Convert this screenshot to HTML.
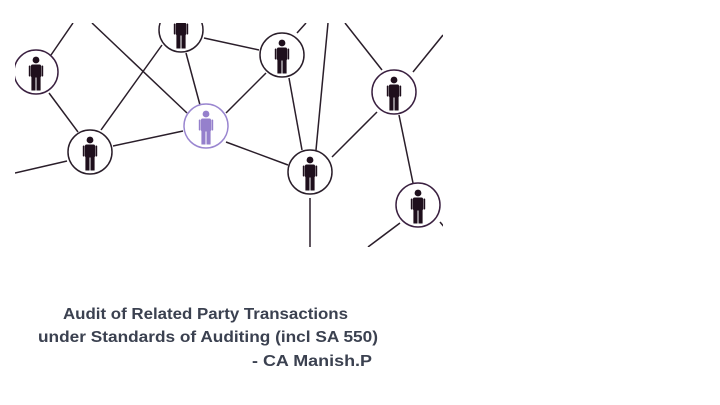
<!DOCTYPE html>
<html><head><meta charset="utf-8"><style>
html,body{margin:0;padding:0;background:#fff;width:720px;height:405px;overflow:hidden}
</style></head><body>
<svg width="720" height="405" viewBox="0 0 720 405" xmlns="http://www.w3.org/2000/svg">
<defs>
<clipPath id="c"><rect x="15" y="23" width="428" height="224"/></clipPath>
<g id="p">
<circle cx="0" cy="-13" r="3.4"/>
<rect x="-5" y="-8.5" width="10" height="13" rx="1.5"/>
<rect x="-7.2" y="-7.5" width="1.8" height="11" rx="0.8"/>
<rect x="5.4" y="-7.5" width="1.8" height="11" rx="0.8"/>
<rect x="-4.6" y="3" width="4.1" height="14.5"/>
<rect x="0.5" y="3" width="4.1" height="14.5"/>
</g>
</defs>
<g clip-path="url(#c)" stroke="#2a1e2a" stroke-width="1.5" fill="none">
<line x1="51" y1="55" x2="73" y2="23"/>
<line x1="92" y1="23" x2="187" y2="113"/>
<line x1="162" y1="45" x2="101" y2="130"/>
<line x1="204" y1="38" x2="259" y2="50"/>
<line x1="186" y1="53" x2="200" y2="105"/>
<line x1="266" y1="73" x2="226" y2="113"/>
<line x1="297" y1="33" x2="306" y2="23"/>
<line x1="289" y1="78" x2="302" y2="150"/>
<line x1="328" y1="23" x2="316" y2="150"/>
<line x1="345" y1="23" x2="382" y2="70"/>
<line x1="413" y1="72" x2="443" y2="35"/>
<line x1="49" y1="93" x2="78" y2="132"/>
<line x1="15" y1="173" x2="67" y2="161"/>
<line x1="113" y1="146" x2="183" y2="131"/>
<line x1="226" y1="142" x2="288" y2="165"/>
<line x1="332" y1="157" x2="377" y2="112"/>
<line x1="399" y1="115" x2="413" y2="183"/>
<line x1="310" y1="198" x2="310" y2="247"/>
<line x1="400" y1="223" x2="368" y2="247"/>
<line x1="440" y1="222" x2="445" y2="228"/>
<g fill="#fff">
<circle cx="36" cy="72" r="22" stroke="#3a2040"/>
<circle cx="181" cy="30" r="22"/>
<circle cx="282" cy="55" r="22"/>
<circle cx="90" cy="152" r="22"/>
<circle cx="310" cy="172" r="22"/>
<circle cx="394" cy="92" r="22" stroke="#3a2040"/>
<circle cx="418" cy="205" r="22" stroke="#3a2040"/>
<circle cx="206" cy="126" r="22" stroke="#9a86d0"/>
</g>
<g stroke="none" fill="#1e0f1c">
<use href="#p" transform="translate(36,73)"/>
<use href="#p" transform="translate(181,31)"/>
<use href="#p" transform="translate(282,56)"/>
<use href="#p" transform="translate(90,153)"/>
<use href="#p" transform="translate(310,173)"/>
<use href="#p" transform="translate(394,93)"/>
<use href="#p" transform="translate(418,206)"/>
<use href="#p" transform="translate(206,127)" fill="#9580cc"/>
</g>
</g>
<g font-family="Liberation Sans, sans-serif" font-weight="bold" font-size="16" fill="#3b4150">
<text x="63" y="319" textLength="285" lengthAdjust="spacingAndGlyphs">Audit of Related Party Transactions</text>
<text x="38" y="342" textLength="340" lengthAdjust="spacingAndGlyphs">under Standards of Auditing (incl SA 550)</text>
<text x="252" y="366" textLength="120" lengthAdjust="spacingAndGlyphs">- CA Manish.P</text>
</g>
</svg>
</body></html>
